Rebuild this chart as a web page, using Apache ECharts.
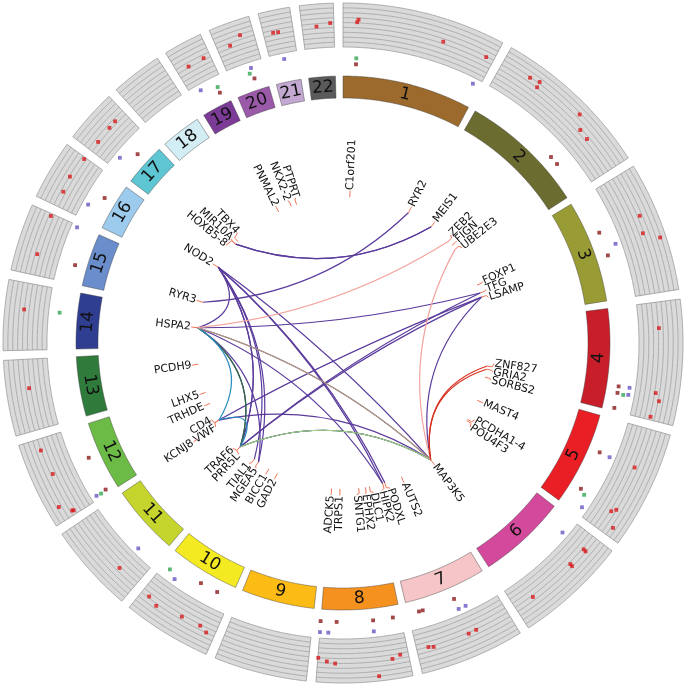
<!DOCTYPE html>
<html><head><meta charset="utf-8">
<script src="https://cdn.jsdelivr.net/npm/echarts@6/dist/echarts.min.js"></script>
<style>html,body{margin:0;padding:0;background:#fff}#c{width:686px;height:686px}</style>
</head><body><div id="c"></div>
<script>
// ---------------- DATA ----------------
const chromNames = ['1','2','3','4','5','6','7','8','9','10','11','12','13','14','15','16','17','18','19','20','21','22'];
const chromLengths = [249.25,243.20,198.02,191.15,180.92,171.12,159.14,146.36,141.21,135.53,135.01,133.85,115.17,107.35,102.53,90.35,81.20,78.08,59.13,63.03,48.13,51.30];
const chromColors = ['#9b6a2c','#6b6c30','#999b35','#c81e2a','#ea1f25','#d3499b','#f6c5c8','#f5921f','#fdbb15','#f4ea22','#c5d52e','#6cbb47','#2f7b3b','#2f3e91','#6a8dcb','#9dcbee','#5ec5d2','#d3edf4','#7b3b96','#9a5aa9','#c3a8d1','#5a5a5a'];

const genes   = ['C1orf201','RYR2','MEIS1','ZEB2','FIGN','UBE2E3','FOXP1','TFG','LSAMP','ZNF827','GRIA2','SORBS2','MAST4','PCDHA1-4','POU4F3','MAP3K5','AUTS2','PODXL','HIPK2','DLC1','EPHX2','SNTG1','TRPS1','ADCK5','GAD2','BICC1','MGEA5','TIAL1','PRR5L','TRAF6','VWF','CD4','KCNJ8','TRHDE','LHX5','PCDH9','HSPA2','RYR3','NOD2','HOXB5-8','MIR10A','TBX4','PNMAL2','NKX2-2','PTPRT'];
const geneChr = [1,1,2,2,2,2,3,3,3,4,4,4,5,5,5,6,7,7,7,8,8,8,8,8,10,10,10,10,11,11,12,12,12,12,12,13,14,15,16,17,17,17,19,20,20];
const genePos = [23.7,237.2,66.7,145.1,164.5,181.8,71.0,100.4,115.8,146.7,158.1,186.5,66.0,140.2,145.7,136.9,69.6,131.2,139.3,13.0,27.35,51.0,116.4,145.6,26.5,60.3,103.5,121.3,36.4,36.5,6.1,6.9,21.9,72.7,113.9,67.0,65.0,33.9,50.7,46.6,46.7,59.5,47.0,21.5,41.2];

const linkFrom = ['RYR2','MEIS1','MEIS1','TFG','LSAMP','LSAMP','TFG','LSAMP','NOD2','NOD2','NOD2','NOD2','NOD2','NOD2','NOD2','NOD2','HSPA2','HSPA2','HSPA2','HSPA2','VWF','TRAF6','HSPA2','TRAF6','PRR5L','HSPA2','CD4','HSPA2','ZEB2','UBE2E3','ZNF827','GRIA2'];
const linkTo   = ['RYR3','HOXB5-8','MIR10A','HSPA2','CD4','TRAF6','PRR5L','MAP3K5','HSPA2','TRAF6','PRR5L','MGEA5','TIAL1','HIPK2','PODXL','MAP3K5','MAP3K5','HIPK2','MGEA5','PRR5L','MAP3K5','MAP3K5','TRAF6','MAP3K5','MAP3K5','VWF','TRAF6','MAP3K5','HSPA2','MAP3K5','MAP3K5','MAP3K5'];
const linkType = ['purple','purple','purple','purple','purple','purple','purple','purple','purple','purple','purple','purple','purple','purple','purple','purple','purple','purple','purple','purple','purple','purple','darkgreen','darkgreen','lightgreen','teal','teal','tan','salmon','salmon','red','red'];

// inner marker tracks: [chromosome, position Mb]
const darkRedChr = [1,2,2,3,3,4,4,4,5,5,7,7,7,8,8,8,8,10,10,12,12,15,16,17,19,20];
const darkRedPos = [23.7,164.7,181.6,71.5,115.9,145.6,157.6,185.6,65.5,140.4,70.9,131.8,138.9,14.2,50.7,117.3,146.6,27.4,61.2,7.9,73.7,33.8,51.0,46.5,46.8,41.5];
const greenChr = [1,4,5,10,12,14,19,20];
const greenPos = [23.7,159.4,146.6,121.6,6.1,65.9,47.7,36.2];
const blueChr = [1,3,4,4,5,5,6,7,7,8,8,8,10,11,12,15,16,17,19,20,21];
const bluePos = [236.5,100.8,145.1,157.6,66.6,167.1,27.7,57.1,70.4,51.5,131.5,146.2,104.7,38.3,7.0,98.7,26.1,20.7,18.4,41.5,24.5];

// outer grey track: [chromosome, position Mb, value 0..1]
const redChr = [1,1,1,1,2,2,2,2,2,2,3,3,3,4,4,4,4,5,5,5,5,6,6,6,6,6,7,7,7,7,8,8,8,8,8,8,10,10,10,10,10,11,12,12,12,12,12,13,14,15,15,16,16,16,17,17,17,19,19,20,20,21,21,22,22];
const redPos = [22.5,24.5,163.6,236.5,49.1,65.1,66.9,145.1,163.8,181.6,72.3,99.9,115.0,42.0,146.9,158.9,186.0,65.8,139.5,145.7,166.2,25.9,26.4,57.9,58.4,138.0,58.0,71.4,131.8,139.8,13.3,26.6,50.7,118.2,131.5,145.7,14.0,27.4,60.2,103.8,121.6,37.4,6.5,7.5,23.0,73.7,115.5,68.4,65.0,33.8,98.7,25.2,51.4,87.4,18.0,47.0,60.8,20.1,47.7,21.1,41.5,15.6,23.6,23.2,45.4];
const redVal = [0.57,0.63,0.49,0.54,0.65,0.70,0.57,0.75,0.52,0.50,0.61,0.53,0.87,0.46,0.47,0.575,0.46,0.48,0.55,0.47,0.71,0.48,0.54,0.48,0.54,0.48,0.46,0.47,0.48,0.45,0.475,0.54,0.89,0.56,0.52,0.45,0.55,0.47,0.49,0.60,0.525,0.48,0.48,0.51,0.73,0.51,0.56,0.48,0.56,0.51,0.51,0.50,0.54,0.49,0.475,0.49,0.50,0.47,0.48,0.50,0.65,0.50,0.49,0.49,0.55];

// ---------------- LAYOUT ----------------
const GAP = 14.5;
const R_LINK = 146, R_TICK_OUT = 151, R_LABEL = 153, R_LABEL_OUTER = 180;
const R_CHR_IN = 245, R_CHR_OUT = 267, R_CHR_TEXT = 256;
const R_DARK = 279, R_GREEN = 285, R_BLUE = 290;
const R_TRACK_IN = 296, R_TRACK_OUT = 340, TRACK_DIV = 9;
const LABEL_SEP = 3.2;
const outerLayerGenes = { KCNJ8: 'VWF' };   // label stacked beyond the partner's label
const linkColors = {purple:'#5a3b9c', darkgreen:'#2b6a3f', lightgreen:'#a9d68f', teal:'#2b8cbe', tan:'#b8a07a', salmon:'#f3a49c', red:'#d7301f'};
const FONT = '"DejaVu Sans", sans-serif';

const chromStart = []; let acc = 0;
chromLengths.forEach(L => { chromStart.push(acc); acc += L + GAP; });
const TOTAL = acc;
const gp = (c, p) => chromStart[c - 1] + p;
const toDeg = v => v / TOTAL * 360;
const toVal = d => d / 360 * TOTAL;
const geneIdx = {}; genes.forEach((g, i) => geneIdx[g] = i);
const geneVal = genes.map((g, i) => gp(geneChr[i], genePos[i]));

// label spreading
const labelDeg = geneVal.map(toDeg);
const order = genes.map((g, i) => i).filter(i => !(genes[i] in outerLayerGenes)).sort((a, b) => labelDeg[a] - labelDeg[b]);
for (let it = 0; it < 500; it++) {
  let moved = false;
  for (let k = 0; k < order.length - 1; k++) {
    const a = order[k], b = order[k + 1];
    const d = labelDeg[b] - labelDeg[a];
    if (d < LABEL_SEP - 1e-6) { const s = (LABEL_SEP - d) / 2; labelDeg[a] -= s; labelDeg[b] += s; moved = true; }
  }
  if (!moved) break;
}
Object.keys(outerLayerGenes).forEach(g => { labelDeg[geneIdx[g]] = labelDeg[geneIdx[outerLayerGenes[g]]]; });

function arcPoly(api, r0, r1, a0, a1) {
  const pts = []; const n = Math.max(6, Math.ceil((a1 - a0) / 2));
  for (let i = 0; i <= n; i++) pts.push(api.coord([r1, a0 + (a1 - a0) * i / n]));
  for (let i = n; i >= 0; i--) pts.push(api.coord([r0, a0 + (a1 - a0) * i / n]));
  return pts;
}
function arcLine(api, r, a0, a1) {
  const pts = []; const n = Math.max(6, Math.ceil((a1 - a0) / 2));
  for (let i = 0; i <= n; i++) pts.push(api.coord([r, a0 + (a1 - a0) * i / n]));
  return pts;
}

const chart = echarts.init(document.getElementById('c'));
const option = {
  animation: false,
  polar: { center: [343, 343], radius: 340 },
  angleAxis: { type: 'value', min: 0, max: TOTAL, startAngle: 90, clockwise: true, show: false },
  radiusAxis: { type: 'value', min: 0, max: 340, show: false },
  series: [
    { // grey tracks
      type: 'custom', coordinateSystem: 'polar', silent: true, z: 1,
      data: chromLengths.map((L, i) => [R_TRACK_IN, chromStart[i], i]),
      renderItem: (params, api) => {
        const i = api.value(2), a0 = chromStart[i], a1 = a0 + chromLengths[i];
        const ch = [{ type: 'polygon', shape: { points: arcPoly(api, R_TRACK_IN, R_TRACK_OUT, a0, a1) }, style: { fill: '#dadada', stroke: '#8f8f8f', lineWidth: 0.7 } }];
        for (let k = 1; k < TRACK_DIV; k++) {
          const r = R_TRACK_IN + (R_TRACK_OUT - R_TRACK_IN) * k / TRACK_DIV;
          ch.push({ type: 'polyline', shape: { points: arcLine(api, r, a0, a1) }, style: { stroke: '#9a9a9a', lineWidth: 0.7, fill: 'none' } });
        }
        return { type: 'group', children: ch };
      }
    },
    { // chromosome ring
      type: 'custom', coordinateSystem: 'polar', silent: true, z: 2,
      data: chromLengths.map((L, i) => [R_CHR_TEXT, chromStart[i] + L / 2, i]),
      renderItem: (params, api) => {
        const i = api.value(2), a0 = chromStart[i], a1 = a0 + chromLengths[i];
        const mid = (a0 + a1) / 2, th = toDeg(mid);
        const rot = th < 90 ? th : (th > 270 ? th - 360 : th - 180);
        const p = api.coord([R_CHR_TEXT, mid]);
        return { type: 'group', children: [
          { type: 'polygon', shape: { points: arcPoly(api, R_CHR_IN, R_CHR_OUT, a0, a1) }, style: { fill: chromColors[i], stroke: 'rgba(60,60,60,0.55)', lineWidth: 0.8 } },
          { type: 'text', x: p[0], y: p[1], rotation: -rot * Math.PI / 180,
            style: { text: chromNames[i], font: '17px ' + FONT, fill: '#111', textAlign: 'center', align: 'center', textVerticalAlign: 'middle', verticalAlign: 'middle' } }
        ] };
      }
    },
    { type: 'scatter', coordinateSystem: 'polar', symbol: 'rect', symbolSize: 3.8, silent: true, z: 3,
      itemStyle: { color: '#d7191c' },
      data: redChr.map((c, i) => [R_TRACK_IN + redVal[i] * (R_TRACK_OUT - R_TRACK_IN), gp(c, redPos[i])]) },
    { type: 'scatter', coordinateSystem: 'polar', symbol: 'rect', symbolSize: 3.8, silent: true, z: 3,
      itemStyle: { color: '#8b1a1a' },
      data: darkRedChr.map((c, i) => [R_DARK, gp(c, darkRedPos[i])]) },
    { type: 'scatter', coordinateSystem: 'polar', symbol: 'rect', symbolSize: 3.8, silent: true, z: 3,
      itemStyle: { color: '#33a852' },
      data: greenChr.map((c, i) => [R_GREEN, gp(c, greenPos[i])]) },
    { type: 'scatter', coordinateSystem: 'polar', symbol: 'rect', symbolSize: 3.8, silent: true, z: 3,
      itemStyle: { color: '#6a55c2' },
      data: blueChr.map((c, i) => [R_BLUE, gp(c, bluePos[i])]) },
    { // links
      type: 'custom', coordinateSystem: 'polar', silent: true, z: 4,
      data: linkFrom.map((f, i) => [R_LINK, geneVal[geneIdx[f]], i]),
      renderItem: (params, api) => {
        const i = api.value(2);
        const a = geneVal[geneIdx[linkFrom[i]]], b = geneVal[geneIdx[linkTo[i]]];
        let sep = Math.abs(toDeg(a) - toDeg(b)); if (sep > 180) sep = 360 - sep;
        const k = 0.75 - 0.35 * sep / 180;
        const p0 = api.coord([R_LINK, a]), p2 = api.coord([R_LINK, b]), c = api.coord([0, 0]);
        const mx = (p0[0] + p2[0]) / 2, my = (p0[1] + p2[1]) / 2;
        const cx = c[0] + k * (mx - c[0]), cy = c[1] + k * (my - c[1]);
        return { type: 'bezierCurve', shape: { x1: p0[0], y1: p0[1], x2: p2[0], y2: p2[1], cpx1: cx, cpy1: cy },
          style: { stroke: linkColors[linkType[i]], lineWidth: 1.2, fill: 'none' } };
      }
    },
    { // gene ticks + labels
      type: 'custom', coordinateSystem: 'polar', silent: true, z: 5,
      data: genes.map((g, i) => [R_LABEL, geneVal[i], i]),
      renderItem: (params, api) => {
        const i = api.value(2);
        const gv = geneVal[i];
        const outer = genes[i] in outerLayerGenes;
        const lv = toVal(labelDeg[i]);
        const rl = outer ? R_LABEL_OUTER : R_LABEL;
        const tick = outer ? [api.coord([rl - 5, lv]), api.coord([rl - 1, lv])]
                           : [api.coord([R_LINK, gv]), api.coord([R_TICK_OUT, gv]), api.coord([rl - 0.5, lv])];
        const p = api.coord([rl, lv]);
        const th = labelDeg[i];
        const right = th < 180;
        const rotCW = right ? th - 90 : th - 270;
        return { type: 'group', children: [
          { type: 'polyline', shape: { points: tick }, style: { stroke: '#ee7355', lineWidth: 1, fill: 'none' } },
          { type: 'text', x: p[0], y: p[1], rotation: -rotCW * Math.PI / 180,
            style: { text: genes[i], font: '11px ' + FONT, fill: '#111', textAlign: right ? 'left' : 'right', align: right ? 'left' : 'right', textVerticalAlign: 'middle', verticalAlign: 'middle' } }
        ] };
      }
    }
  ]
};
chart.setOption(option);
</script>
</body></html>
